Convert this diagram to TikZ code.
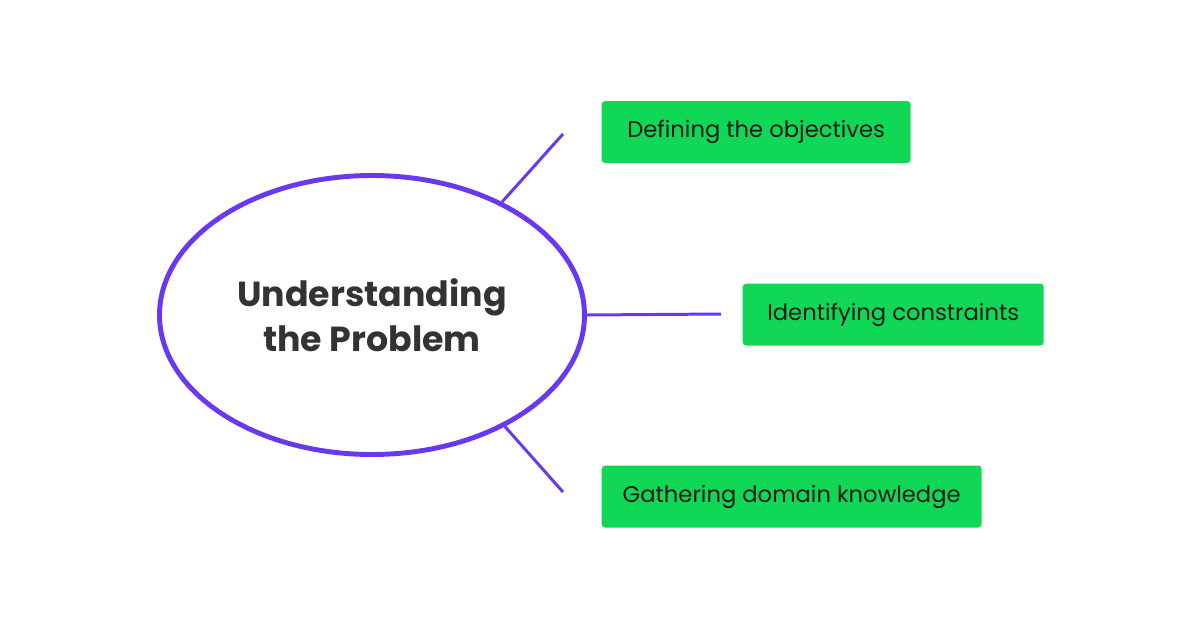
\documentclass[tikz,border=0pt]{standalone}
\usepackage{fontspec}
\setmainfont{Poppins}
\usetikzlibrary{shapes.geometric}

\definecolor{linkpurple}{RGB}{106,56,240}
\definecolor{boxgreen}{RGB}{16,216,86}
\definecolor{titlegray}{RGB}{51,51,51}

\begin{document}
\begin{tikzpicture}[
    topic/.style={
      ellipse, draw=linkpurple, line width=1.4pt,
      minimum width=4.25cm, minimum height=2.79cm, inner sep=0pt,
      align=center, text=titlegray,
      font=\fontsize{9.9}{12.8}\selectfont\bfseries
    },
    subtopic/.style={
      rectangle, fill=boxgreen, rounded corners=1pt,
      minimum height=0.62cm, inner sep=0pt, anchor=west,
      text=black!90, font=\fontsize{6.45}{8}\selectfont
    },
    link/.style={linkpurple, line width=0.85pt},
]
\useasboundingbox (0,0) rectangle (12,6.28);

% ===== CENTRAL TOPIC =====
\node[topic] (problem) at (3.72, 3.13) {Understanding\\the Problem};

% ===== SUBTOPICS =====
\node[subtopic, minimum width=3.09cm] (objectives)  at (6.01, 4.96)  {Defining the objectives};
\node[subtopic, minimum width=3.01cm] (constraints) at (7.42, 3.135) {Identifying constraints};
\node[subtopic, minimum width=3.80cm] (knowledge)   at (6.01, 1.315) {Gathering domain knowledge};

% ===== BRANCH ENDS =====
\coordinate (objectives end)  at (5.63, 4.94);
\coordinate (constraints end) at (7.21, 3.14);
\coordinate (knowledge end)   at (5.63, 1.36);

% ===== BRANCHES =====
\draw[link] (problem.41)   -- (objectives end);
\draw[link] (problem.east) -- (constraints end);
\draw[link] (problem.-40)  -- (knowledge end);

\end{tikzpicture}
\end{document}
